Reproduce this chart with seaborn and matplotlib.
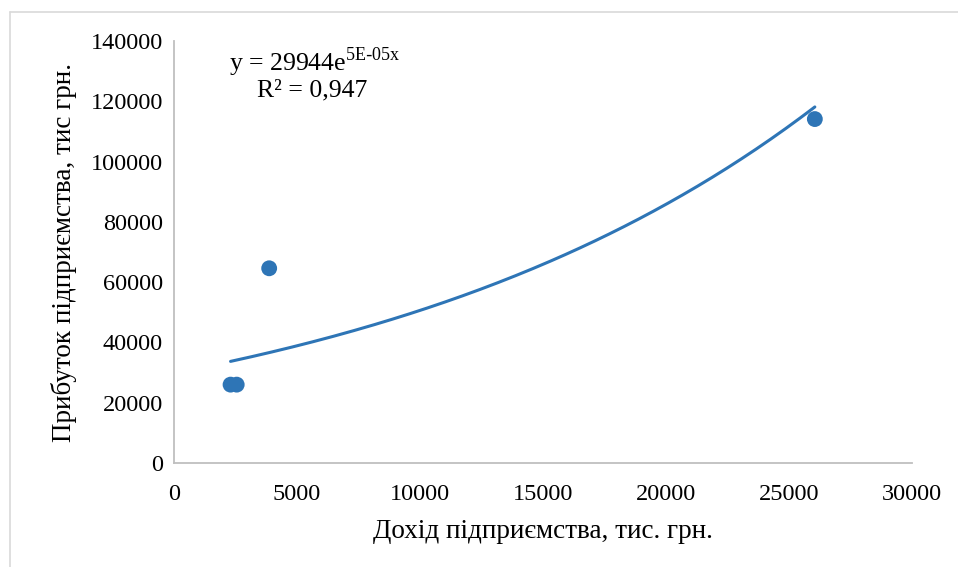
import numpy as np
import pandas as pd
import matplotlib
matplotlib.use('Agg')
import matplotlib.pyplot as plt
import seaborn as sns
from matplotlib.lines import Line2D

# Data
income = [2300, 2550, 3870, 26050]          # Дохід підприємства, тис. грн.
profit = [26000, 26000, 64600, 114100]      # Прибуток підприємства, тис грн.
x_ticks = [0, 5000, 10000, 15000, 20000, 25000, 30000]
y_ticks = [0, 20000, 40000, 60000, 80000, 100000, 120000, 140000]

df = pd.DataFrame({'income': income, 'profit': profit})

sns.set_style('white')
plt.rcParams['font.family'] = ['Liberation Serif', 'DejaVu Serif']
plt.rcParams['text.color'] = 'black'
plt.rcParams['axes.labelcolor'] = 'black'
plt.rcParams['xtick.color'] = 'black'
plt.rcParams['ytick.color'] = 'black'

blue = '#2E75B6'
grey = '#BFBFBF'

fig = plt.figure(figsize=(9.58, 5.67), dpi=100)
ax = fig.add_axes([0.1816, 0.1834, 0.7704, 0.7443])

sns.scatterplot(data=df, x='income', y='profit', ax=ax, color=blue,
                s=130, edgecolor='none', zorder=3)

# exponential trendline fitted to the points
b, ln_a = np.polyfit(df['income'], np.log(df['profit']), 1)
xs = np.linspace(df['income'].min(), df['income'].max(), 200)
ax.plot(xs, np.exp(ln_a) * np.exp(b * xs), color=blue, lw=2.2, zorder=2)

ax.set_xlim(0, 30000)
ax.set_ylim(0, 140000)
ax.set_xticks(x_ticks)
ax.set_yticks(y_ticks)
ax.tick_params(axis='x', length=0, labelsize=17.5, pad=15)
ax.tick_params(axis='y', length=0, labelsize=17.5, pad=8)

for side in ['top', 'right']:
    ax.spines[side].set_visible(False)
for side in ['left', 'bottom']:
    ax.spines[side].set_color(grey)
    ax.spines[side].set_linewidth(1.3)

ax.set_xlabel('Дохід підприємства, тис. грн.', fontsize=19.5, labelpad=10)
ax.set_ylabel('Прибуток підприємства, тис грн.', fontsize=19.5, labelpad=10)

ax.text(0.075, 0.95, 'y = 29944e$^{\\mathregular{5E\\text{-}05x}}$', transform=ax.transAxes,
        fontsize=18.5, va='center', ha='left')
ax.text(0.113, 0.883, 'R² = 0,947', transform=ax.transAxes,
        fontsize=18.5, va='center', ha='left')

# outer chart border (top and left edges visible)
fig.add_artist(Line2D([0.0105, 1.0], [0.979, 0.979], transform=fig.transFigure,
                      color='#D9D9D9', lw=1.2))
fig.add_artist(Line2D([0.0105, 0.0105], [0.0, 0.979], transform=fig.transFigure,
                      color='#D9D9D9', lw=1.2))

fig.savefig('out.png', dpi=100)
